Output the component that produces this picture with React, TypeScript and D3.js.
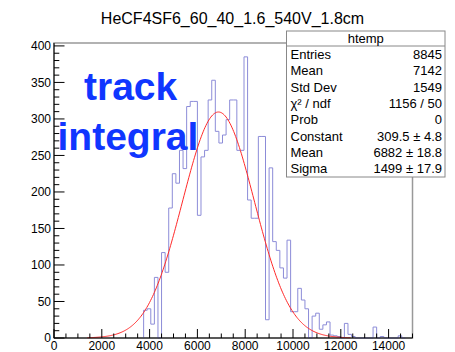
import React from 'react';
import * as d3 from 'd3';

const W = 455;
const H = 352;

const titleText = 'HeCF4SF6_60_40_1.6_540V_1.8cm';
const xTicks = [0, 2000, 4000, 6000, 8000, 10000, 12000, 14000];
const yTicks = [0, 50, 100, 150, 200, 250, 300, 350, 400];
const xRange = [0, 15000];
const yRange = [0, 404];
const binWidth = 150;
const firstBin = 25;
// counts for bins starting at 3750 (bin 25), width 150
const binCounts = [
  38, 40, 19, 83, 0, 117, 90, 178, 225, 212,
  257, 232, 317, 324, 324, 168, 248, 257, 326, 353,
  283, 267, 278, 299, 326, 326, 257, 257, 385, 189,
  164, 164, 276, 276, 25, 233, 132, 120, 96, 82,
  134, 36, 36, 68, 52, 40, 0, 30, 34, 12,
  18, 22, 4, 3, 2, 0, 20, 5, 2, 0,
  0, 0, 0, 0, 15, 0, 2, 0, 0, 0,
  0, 3, 0,
];
const fitParams = [309.5, 6882, 1499];
const fitRange = [1400, 12400];
const statsTitle = 'htemp';
const statsLabels = ['Entries', 'Mean', 'Std Dev', 'χ² / ndf', 'Prob', 'Constant', 'Mean', 'Sigma'];
const statsValues = ['8845', '7142', '1549', '1156 / 50', '0', '309.5 ± 4.8', '6882 ± 18.8', '1499 ± 17.9'];
const annotationLines = ['track', 'integral'];

export default function App() {
  const fL = 54, fR = 412.5, fT = 43, fB = 338;
  const x = d3.scaleLinear().domain(xRange).range([fL, fR]);
  const y = d3.scaleLinear().domain(yRange).range([fB, fT]);

  const pts: [number, number][] = [[firstBin * binWidth, 0]];
  for (let i = 0; i < binCounts.length; i++) {
    const lo = (firstBin + i) * binWidth;
    pts.push([lo, binCounts[i]]);
    pts.push([lo + binWidth, binCounts[i]]);
  }
  pts.push([(firstBin + binCounts.length) * binWidth, 0]);
  const histLine = d3.line<[number, number]>().x(d => x(d[0])).y(d => y(d[1]));

  const [A, mu, sg] = fitParams;
  const fx = d3.range(fitRange[0], fitRange[1] + 1, 40);
  const fitPts: [number, number][] = fx.map(v => [v, A * Math.exp(-0.5 * ((v - mu) / sg) ** 2)]);

  const xMinor = d3.range(xRange[0], xRange[1] + 1, 500);
  const yMinor = d3.range(0, 401, 10);

  const font = "'Liberation Sans', Arial, Helvetica, sans-serif";
  const sx = 286.5, sy = 31, sw = 158.5, sh = 146, sHead = 15;
  const rowH = (sh - sHead) / statsLabels.length;

  return (
    <svg width={W} height={H} style={{ position: 'absolute', left: 0, top: 0, background: '#fff' }} fontFamily={font}>
      <rect x={0} y={0} width={W} height={H} fill="#fff" />
      <text x={232.5} y={24} fontSize={16} textAnchor="middle" fill="#000">{titleText}</text>
      <rect x={fL} y={fT} width={fR - fL} height={fB - fT} fill="none" stroke="#999" strokeWidth={1.5} />
      <path d={histLine(pts) || ''} fill="none" stroke="#8c8cd8" strokeWidth={1} />
      <path d={histLine(fitPts) || ''} fill="none" stroke="#ff2a2a" strokeWidth={1} />
      {/* axes */}
      <line x1={fL} x2={fR} y1={fB} y2={fB} stroke="#000" strokeWidth={1} />
      <line x1={fL} x2={fL} y1={fB} y2={fT} stroke="#000" strokeWidth={1} />
      {xMinor.map(v => {
        const major = v % 2000 === 0;
        return <line key={'xm' + v} x1={x(v)} x2={x(v)} y1={fB} y2={fB - (major ? 9 : 4.5)} stroke="#000" strokeWidth={1} />;
      })}
      {yMinor.map(v => {
        const major = v % 50 === 0;
        return <line key={'ym' + v} x1={fL} x2={fL + (major ? 10.5 : 5.3)} y1={y(v)} y2={y(v)} stroke="#000" strokeWidth={1} />;
      })}
      {xTicks.map(v => (
        <text key={'xt' + v} x={x(v)} y={349.5} fontSize={12} textAnchor="middle" fill="#000">{v}</text>
      ))}
      {yTicks.map(v => (
        <text key={'yt' + v} x={51} y={y(v) + 4.2} fontSize={12} textAnchor="end" fill="#000">{v}</text>
      ))}
      {/* stats box */}
      <rect x={sx} y={sy} width={sw} height={sh} fill="#fff" stroke="#888" strokeWidth={1} />
      <line x1={sx} x2={sx + sw} y1={sy + sHead} y2={sy + sHead} stroke="#888" strokeWidth={1} />
      <text x={sx + sw / 2} y={sy + 12} fontSize={13} textAnchor="middle" fill="#000">{statsTitle}</text>
      {statsLabels.map((l, i) => (
        <text key={'sl' + i} x={sx + 4} y={sy + sHead + rowH * (i + 0.5) + 4.6} fontSize={13} fill="#000">{l}</text>
      ))}
      {statsValues.map((v, i) => (
        <text key={'sv' + i} x={sx + sw - 3} y={sy + sHead + rowH * (i + 0.5) + 4.6} fontSize={13} textAnchor="end" fill="#000">{v}</text>
      ))}
      {/* annotation */}
      <text x={84} y={100} fontSize={39} fontWeight="bold" fill="#1036ff">{annotationLines[0]}</text>
      <text x={57.5} y={150} fontSize={39} fontWeight="bold" fill="#1036ff">{annotationLines[1]}</text>
    </svg>
  );
}
